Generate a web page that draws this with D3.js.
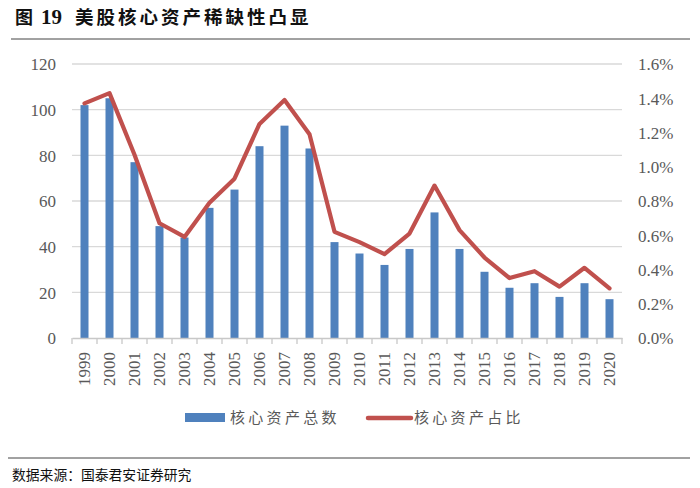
<!DOCTYPE html>
<html>
<head>
<meta charset="utf-8">
<script src="https://cdn.jsdelivr.net/npm/d3@7/dist/d3.min.js"></script>
<style>
  html, body { margin: 0; padding: 0; background: #fff; }
  svg { display: block; }
</style>
</head>
<body>
<svg id="chart" width="700" height="488"></svg>
<script>
const years = ["1999","2000","2001","2002","2003","2004","2005","2006","2007","2008","2009","2010","2011","2012","2013","2014","2015","2016","2017","2018","2019","2020"];
const coreCount = [102,105,77,49,44,57,65,84,93,83,42,37,32,39,55,39,29,22,24,18,24,17];
const coreShare = [1.37,1.43,1.07,0.67,0.59,0.79,0.93,1.25,1.39,1.19,0.62,0.56,0.49,0.61,0.89,0.63,0.47,0.35,0.39,0.30,0.41,0.29];
const leftTicks = [0,20,40,60,80,100,120];
const rightTicks = [0,0.2,0.4,0.6,0.8,1.0,1.2,1.4,1.6];
const seriesNames = ["核心资产总数","核心资产占比"];
const titleFig = "图";
const titleNo = "19";
const titleText = "美股核心资产稀缺性凸显";
const sourceText = "数据来源：国泰君安证券研究";

const svg = d3.select("#chart");
const plot = {left: 72, right: 622, top: 64, bottom: 338};

const x = d3.scaleBand().domain(years).range([plot.left, plot.right]).padding(0);
const yL = d3.scaleLinear().domain([0,120]).range([plot.bottom, plot.top]);
const yR = d3.scaleLinear().domain([0,1.6]).range([plot.bottom, plot.top]);

const serif = "'Liberation Serif', 'Times New Roman', serif";
const cjk = "'Noto Sans CJK SC', sans-serif";
const labelColor = "#595959";

// Title
const t = svg.append("text").attr("y", 24).attr("font-weight", "bold").attr("fill", "#111");
t.append("tspan").attr("x", 15).attr("font-family", cjk).attr("font-size", 18).text(titleFig);
t.append("tspan").attr("x", 41).attr("font-family", serif).attr("font-size", 21).text(titleNo);
t.append("tspan").attr("x", 75).attr("font-family", cjk).attr("font-size", 18.5).attr("letter-spacing", 3).text(titleText);

svg.append("line").attr("x1", 11).attr("x2", 690).attr("y1", 39).attr("y2", 39)
  .attr("stroke", "#444").attr("stroke-width", 1);

// Gridlines
svg.append("g").selectAll("line").data(leftTicks.filter(d => d > 0)).join("line")
  .attr("x1", plot.left).attr("x2", plot.right)
  .attr("y1", d => yL(d)).attr("y2", d => yL(d))
  .attr("stroke", "#d9d9d9").attr("stroke-width", 1.3);

// Left axis
const gL = svg.append("g").attr("transform", `translate(${plot.left - 16},0)`)
  .call(d3.axisLeft(yL).tickValues(leftTicks).tickSize(0).tickPadding(0));
gL.select(".domain").remove();
gL.selectAll("text").attr("font-family", serif).attr("font-size", 17).attr("fill", labelColor).attr("dy", "0.34em");

// Right axis
const gR = svg.append("g").attr("transform", `translate(${plot.right + 16},0)`)
  .call(d3.axisRight(yR).tickValues(rightTicks).tickSize(0).tickPadding(0).tickFormat(d => d.toFixed(1) + "%"));
gR.select(".domain").remove();
gR.selectAll("text").attr("font-family", serif).attr("font-size", 17).attr("fill", labelColor).attr("dy", "0.34em");

// Bars
const barW = x.bandwidth() * 0.32;
svg.append("g").selectAll("rect").data(years).join("rect")
  .attr("x", (d) => x(d) + x.bandwidth()/2 - barW/2)
  .attr("width", barW)
  .attr("y", (d,i) => yL(coreCount[i]))
  .attr("height", (d,i) => yL(0) - yL(coreCount[i]))
  .attr("fill", "#4F81BD");

// X axis
const gX = svg.append("g").attr("transform", `translate(0,${plot.bottom})`)
  .call(d3.axisBottom(x).tickSize(0).tickPadding(0));
gX.select(".domain").attr("stroke", "#c8c8c8").attr("stroke-width", 1.3);
gX.selectAll(".tick text")
  .attr("font-family", serif).attr("font-size", 17).attr("fill", labelColor)
  .attr("text-anchor", "end")
  .attr("transform", "translate(0,14) rotate(-90)")
  .attr("dx", 0).attr("dy", "0.34em").attr("x", 0).attr("y", 0);
// boundary ticks
const bounds = years.map(d => x(d)).concat([plot.right]);
svg.append("g").selectAll("line").data(bounds).join("line")
  .attr("x1", d => d).attr("x2", d => d)
  .attr("y1", plot.bottom).attr("y2", plot.bottom + 6)
  .attr("stroke", "#c8c8c8").attr("stroke-width", 1.3);

// Line
const line = d3.line()
  .x((d,i) => x(years[i]) + x.bandwidth()/2)
  .y(d => yR(d));
svg.append("path").datum(coreShare)
  .attr("d", line).attr("fill", "none")
  .attr("stroke", "#C0504D").attr("stroke-width", 4.2)
  .attr("stroke-linejoin", "round").attr("stroke-linecap", "round");

// Legend
const lg = svg.append("g");
lg.append("rect").attr("x", 185).attr("y", 413).attr("width", 40).attr("height", 9).attr("fill", "#4F81BD");
lg.append("text").attr("x", 230).attr("y", 418).attr("dy", "0.35em")
  .attr("font-family", cjk).attr("font-size", 15).attr("letter-spacing", 3.3)
  .attr("fill", labelColor).text(seriesNames[0]);
lg.append("line").attr("x1", 368).attr("x2", 411).attr("y1", 418).attr("y2", 418)
  .attr("stroke", "#C0504D").attr("stroke-width", 4.5).attr("stroke-linecap", "round");
lg.append("text").attr("x", 414).attr("y", 418).attr("dy", "0.35em")
  .attr("font-family", cjk).attr("font-size", 15).attr("letter-spacing", 3.3)
  .attr("fill", labelColor).text(seriesNames[1]);

// Source
svg.append("line").attr("x1", 8).attr("x2", 690).attr("y1", 458).attr("y2", 458)
  .attr("stroke", "#444").attr("stroke-width", 1);
svg.append("text").attr("x", 12).attr("y", 480)
  .attr("font-family", cjk).attr("font-size", 13.8).attr("fill", "#111")
  .text(sourceText);
</script>
</body>
</html>
